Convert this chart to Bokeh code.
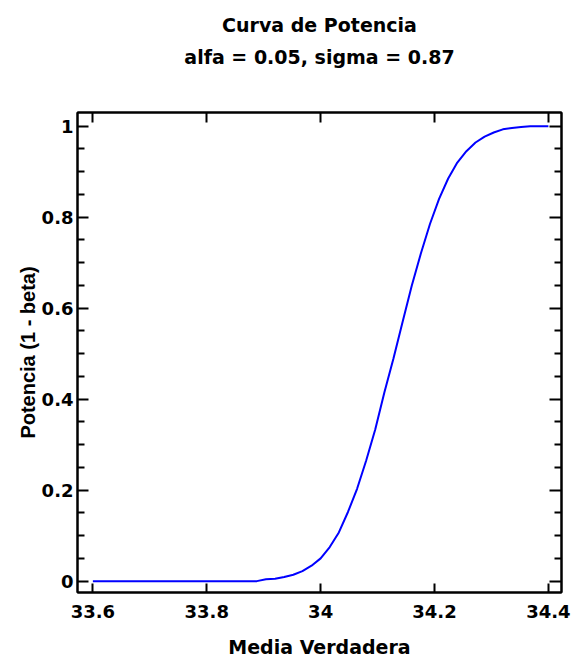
from bokeh.plotting import figure
from bokeh.models import (LinearAxis, FixedTicker, CustomJSTickFormatter, Title,
                          Range1d, ColumnDataSource)
from bokeh.embed import file_html
from bokeh.resources import INLINE

# ---- data ----
media = [33.600, 33.616, 33.632, 33.648, 33.664, 33.680, 33.696, 33.712, 33.728, 33.744,
         33.760, 33.776, 33.792, 33.808, 33.824, 33.840, 33.856, 33.872, 33.888, 33.904,
         33.920, 33.936, 33.952, 33.968, 33.984, 34.000, 34.016, 34.032, 34.048, 34.064,
         34.080, 34.096, 34.112, 34.128, 34.144, 34.160, 34.176, 34.192, 34.208, 34.224,
         34.240, 34.256, 34.272, 34.288, 34.304, 34.320, 34.336, 34.352, 34.368, 34.384,
         34.400]
potencia = [0.000, 0.000, 0.000, 0.000, 0.000, 0.000, 0.000, 0.000, 0.000, 0.000,
            0.000, 0.000, 0.000, 0.000, 0.000, 0.000, 0.000, 0.000, 0.000, 0.004,
            0.005, 0.009, 0.014, 0.022, 0.034, 0.050, 0.075, 0.107, 0.152, 0.203,
            0.265, 0.334, 0.415, 0.490, 0.570, 0.649, 0.720, 0.785, 0.840, 0.885,
            0.920, 0.945, 0.964, 0.977, 0.986, 0.993, 0.996, 0.998, 1.000, 1.000,
            1.000]

x_ticks = [33.6, 33.8, 34.0, 34.2, 34.4]
x_tick_labels = ["33.6", "33.8", "34", "34.2", "34.4"]
y_ticks = [0.0, 0.2, 0.4, 0.6, 0.8, 1.0]
y_tick_labels = ["0", "0.2", "0.4", "0.6", "0.8", "1"]
y_minor = [0.05, 0.1, 0.15, 0.25, 0.3, 0.35, 0.45, 0.5, 0.55, 0.65, 0.7, 0.75,
           0.85, 0.9, 0.95]

title_1 = "Curva de Potencia"
title_2 = "alfa = 0.05, sigma = 0.87"
x_label = "Media Verdadera"
y_label = "Potencia (1 - beta)"

FONT = "DejaVu Sans"
TICK_FS = "18px"

p = figure(width=576, height=661, output_backend="svg", toolbar_location=None,
           title=None, x_axis_location=None, y_axis_location=None,
           min_border_left=77, min_border_right=15, min_border_top=112,
           min_border_bottom=69)
p.x_range = Range1d(33.573, 34.423)
p.y_range = Range1d(-0.025, 1.03)
p.xgrid.visible = False
p.ygrid.visible = False
p.outline_line_color = "black"
p.outline_line_width = 2
p.background_fill_color = "white"
p.border_fill_color = "white"

src = ColumnDataSource(dict(x=media, y=potencia))
p.line("x", "y", source=src, line_color="#0000ff", line_width=2)

fmt_code = """
const i = tvals.findIndex(t => Math.abs(t - tick) < 1e-9);
return i >= 0 ? tlabels[i] : '';
"""
xfmt = CustomJSTickFormatter(args=dict(tvals=x_ticks, tlabels=x_tick_labels), code=fmt_code)
yfmt = CustomJSTickFormatter(args=dict(tvals=y_ticks, tlabels=y_tick_labels), code=fmt_code)
blank = CustomJSTickFormatter(code="return '';")


def style(ax, tick_in, minor_in, show_labels):
    ax.axis_line_color = "black"
    ax.axis_line_width = 2
    ax.major_tick_line_color = "black"
    ax.major_tick_line_width = 2
    ax.major_tick_in = tick_in
    ax.major_tick_out = 0
    if minor_in:
        ax.minor_tick_line_color = "black"
        ax.minor_tick_line_width = 2
        ax.minor_tick_in = minor_in
        ax.minor_tick_out = 0
    else:
        ax.minor_tick_line_color = None
    if show_labels:
        ax.major_label_text_font = FONT
        ax.major_label_text_font_style = "bold"
        ax.major_label_text_font_size = TICK_FS
        ax.major_label_text_color = "black"
    else:
        ax.formatter = blank
        ax.major_label_text_font_size = "2px"
        ax.major_label_standoff = 0


xb = LinearAxis(ticker=FixedTicker(ticks=x_ticks), formatter=xfmt)
style(xb, 9, 0, True)
xb.major_label_standoff = 12
xb.axis_label = x_label
xb.axis_label_text_font = FONT
xb.axis_label_text_font_style = "bold"
xb.axis_label_text_font_size = "19px"
xb.axis_label_text_color = "black"
xb.axis_label_standoff = 15
p.add_layout(xb, "below")

xt = LinearAxis(ticker=FixedTicker(ticks=x_ticks))
style(xt, 10, 0, False)
p.add_layout(xt, "above")

# invisible spacer axis: only reserves room between the frame and the titles
spacer = LinearAxis(ticker=FixedTicker(ticks=x_ticks), formatter=blank)
spacer.axis_line_color = None
spacer.major_tick_line_color = None
spacer.minor_tick_line_color = None
spacer.major_tick_in = 0
spacer.major_tick_out = 36
spacer.major_label_text_font_size = "2px"
spacer.major_label_standoff = 0
p.add_layout(spacer, "above")

yl = LinearAxis(ticker=FixedTicker(ticks=y_ticks, minor_ticks=y_minor), formatter=yfmt)
style(yl, 11, 7, True)
yl.major_label_standoff = 4
yl.axis_label = y_label
yl.axis_label_text_font = "Liberation Sans"
yl.axis_label_text_font_style = "bold"
yl.axis_label_text_font_size = "20px"
yl.axis_label_text_color = "black"
yl.axis_label_standoff = 0
p.add_layout(yl, "left")

yr = LinearAxis(ticker=FixedTicker(ticks=y_ticks, minor_ticks=y_minor))
style(yr, 12, 7, False)
p.add_layout(yr, "right")

t2 = Title(text=title_2, align="center", text_font=FONT, text_font_style="bold",
           text_font_size="19px", text_color="black", standoff=17)
p.add_layout(t2, "above")
t1 = Title(text=title_1, align="center", text_font=FONT, text_font_style="bold",
           text_font_size="19px", text_color="black", standoff=0)
p.add_layout(t1, "above")

open("out.html", "w").write(file_html(p, INLINE))
